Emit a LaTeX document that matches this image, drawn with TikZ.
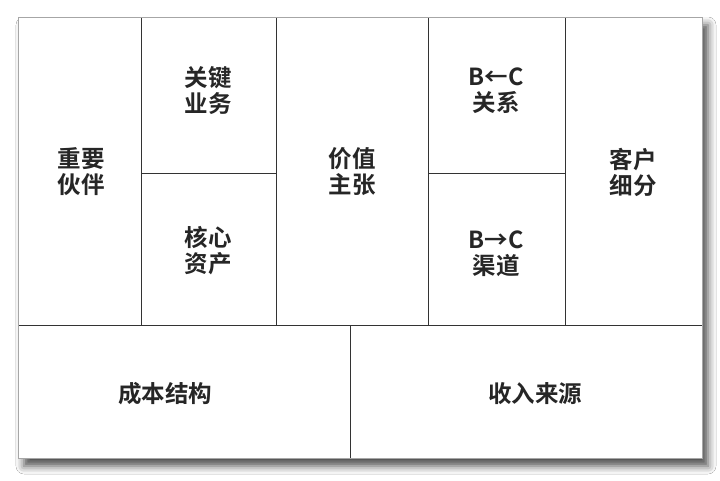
\documentclass[tikz,border=0pt]{standalone}
\usepackage{fontspec}
\newfontfamily\cjk{Noto Sans CJK SC}[BoldFont={* Bold}]
\usetikzlibrary{shadows.blur}
\begin{document}
\begin{tikzpicture}[x=1pt,y=-1pt,
  cell/.style={draw=black!80,line width=0.8pt,inner sep=0pt,outer sep=0pt},
  lbl/.style={font=\cjk\fontsize{23.5}{26}\selectfont\bfseries,text=black!85,align=center,inner sep=0pt}]
\useasboundingbox (0,0) rectangle (720,480);
\fill[white] (0,0) rectangle (720,480);
% background with shadow
\path[fill=white,blur shadow={shadow xshift=6pt,shadow yshift=-8pt,shadow blur radius=8pt,shadow opacity=70}] (18,17) rectangle (702,458);
% cells
\node[cell,minimum width=123pt,minimum height=308pt] (kp) at (79.5,171) {};
\node[cell,minimum width=135pt,minimum height=156pt] (ka) at (208.5,95) {};
\node[cell,minimum width=135pt,minimum height=152pt] (kr) at (208.5,249) {};
\node[cell,minimum width=152pt,minimum height=308pt] (vp) at (352,171) {};
\node[cell,minimum width=137pt,minimum height=156pt] (cr) at (496.5,95) {};
\node[cell,minimum width=137pt,minimum height=152pt] (ch) at (496.5,249) {};
\node[cell,minimum width=137pt,minimum height=308pt] (cs) at (633.5,171) {};
\node[cell,minimum width=332pt,minimum height=133pt] (cost) at (184,391.5) {};
\node[cell,minimum width=352pt,minimum height=133pt] (rev) at (526,391.5) {};
% outer border
\draw[black!35,line width=0.8pt] (18,17) rectangle (702,458);
% labels
\node[lbl] (t1) at (81,172) {重要\\伙伴};
\node[lbl] (t2) at (208,91) {关键\\业务};
\node[lbl] (t3) at (208,251) {核心\\资产};
\node[lbl] (t4) at (352,172) {价值\\主张};
\node[lbl] (t5) at (496,91) {B←C\\关系};
\node[lbl] (t6) at (496,254) {B→C\\渠道};
\node[lbl] (t7) at (633,172) {客户\\细分};
\node[lbl] (t8) at (165,394) {成本结构};
\node[lbl] (t9) at (535,394) {收入来源};
\end{tikzpicture}
\end{document}
